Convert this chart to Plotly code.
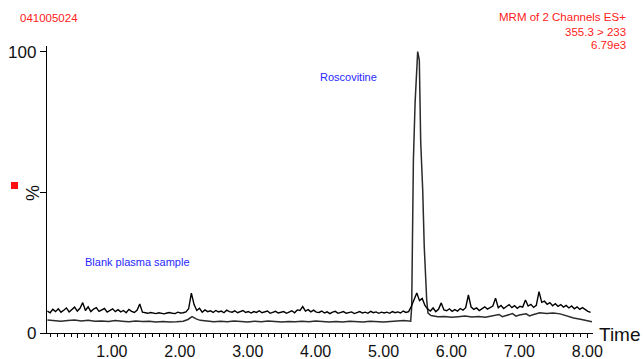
import plotly.graph_objects as go

# ---------------- data ----------------
# Trace A: noisy chromatogram, regular scan grid starting at 0.05 min, step 0.04 min
scan_start = 0.05
scan_step = 0.04
trace_a_pct = [
    7.8, 7.2, 8.4, 7.6, 8.6, 7.4, 8.1, 8.9, 7.5, 8.3, 9.2, 7.8, 8.8, 10.8, 8.0, 9.3, 7.6, 8.5, 9.0, 7.7, 8.2, 8.7, 7.4, 8.1, 8.6,
    7.6, 8.3, 7.5, 8.0, 7.2, 8.4, 7.7, 7.3, 8.1, 10.3, 7.4, 7.2, 7.0, 7.3, 7.1, 6.9, 7.2, 7.0, 6.8, 7.1, 7.3, 7.0, 6.9, 7.4, 7.1,
    7.2, 7.5, 8.6, 14.2, 10.1, 8.0, 8.8, 7.4, 8.2, 7.6, 7.9, 7.3, 8.0, 7.5, 7.8, 7.2, 8.1, 7.6, 7.4, 7.9, 7.2, 7.7, 8.0, 7.3, 7.6,
    7.1, 7.6, 7.3, 7.9, 7.2, 7.5, 7.8, 7.0, 7.4, 7.7, 7.1, 7.3, 7.6, 7.0, 7.5, 7.9, 7.2, 8.2, 8.0, 9.4, 7.8, 8.3, 7.5, 8.1, 7.4,
    7.3, 7.8, 7.1, 7.5, 6.9, 7.4, 7.7, 7.0, 7.3, 7.6, 7.0, 7.2, 7.5, 6.9, 7.3, 7.6, 7.1, 7.4, 7.0, 7.7, 7.2, 7.5, 7.0, 7.4, 7.1,
    7.4, 7.0, 7.6, 7.2, 7.5, 7.1, 7.8, 7.3, 7.6, 9.5, 12.0, 14.2, 11.5, 12.3, 9.8, 8.5, 7.8, 8.9, 7.6, 8.4, 10.7, 8.2, 7.9, 8.6, 7.7,
    8.3, 7.8, 8.7, 8.1, 9.0, 13.5, 9.2, 8.4, 8.9, 8.0, 8.6, 9.3, 8.5, 9.1, 9.6, 12.4, 9.0, 9.8, 8.7, 9.4, 10.1, 9.0, 9.7, 8.8, 9.5,
    9.2, 11.7, 9.6, 10.2, 9.1, 9.8, 14.7, 10.9, 11.3, 10.2, 10.8, 9.7, 10.4, 9.5, 10.1, 9.2, 9.8, 8.9, 9.6, 8.6, 9.3, 8.4, 9.0, 8.2, 7.7, 7.3,
]
trace_a_time = [round(scan_start + scan_step * i, 3) for i in range(len(trace_a_pct))]

# Trace B: smoother chromatogram containing the Roscovitine peak
trace_b_time = [
    0.05, 0.15, 0.25, 0.35, 0.45, 0.55, 0.65, 0.75, 0.85, 0.95, 1.05, 1.15, 1.25, 1.35, 1.45, 1.55, 1.65, 1.75, 1.85, 1.95,
    2.05, 2.12, 2.18, 2.24, 2.30, 2.40, 2.50, 2.60, 2.70, 2.80, 2.90, 3.00, 3.10, 3.20, 3.30, 3.40, 3.50, 3.60, 3.70, 3.80,
    3.90, 4.00, 4.10, 4.20, 4.30, 4.40, 4.50, 4.60, 4.70, 4.80, 4.90, 5.00, 5.10, 5.20, 5.30, 5.40,
    5.415, 5.425, 5.44, 5.465, 5.49, 5.503, 5.527, 5.548, 5.577, 5.60, 5.636, 5.655,
    5.70, 5.80, 5.90, 6.00, 6.10, 6.20, 6.30, 6.40, 6.50, 6.60, 6.70, 6.75, 6.80, 6.90, 6.95, 7.00, 7.10, 7.15, 7.20,
    7.30, 7.40, 7.50, 7.60, 7.70, 7.80, 7.90, 8.00, 8.07,
]
trace_b_pct = [
    4.6, 4.5, 4.2, 4.4, 4.6, 4.3, 4.5, 4.2, 4.3, 4.1, 4.4, 4.2, 4.0, 4.3, 4.1, 4.2, 3.9, 4.1, 3.9, 4.0,
    4.2, 4.8, 5.8, 5.0, 4.5, 4.3, 4.0, 4.2, 4.0, 4.3, 4.1, 3.9, 4.2, 4.0, 4.3, 4.1, 3.9, 4.1, 4.0, 4.2,
    4.0, 4.3, 4.0, 3.9, 4.1, 3.9, 4.2, 4.0, 3.9, 4.2, 4.0, 3.9, 4.1, 4.3, 4.4, 4.2,
    9.3, 30.6, 61.6, 81.9, 98.2, 100.0, 97.0, 67.6, 50.9, 30.6, 11.7, 7.1,
    6.2, 5.8, 5.9, 5.6, 5.8, 6.0, 5.7, 5.9, 5.6, 6.1, 6.6, 5.8, 6.2, 6.9, 6.0, 6.4, 6.8, 6.1, 6.5,
    7.2, 6.9, 7.1, 6.8, 6.0, 5.3, 4.9, 4.3, 4.0,
]

x_major_ticks = [0.5, 1.0, 1.5, 2.0, 2.5, 3.0, 3.5, 4.0, 4.5, 5.0, 5.5, 6.0, 6.5, 7.0, 7.5, 8.0]
x_major_text = ["", "1.00", "", "2.00", "", "3.00", "", "4.00", "", "5.00", "", "6.00", "", "7.00", "", "8.00"]
y_ticks = [0, 50, 100]
y_tick_text = ["0", "", "100"]

sample_id = "041005024"
header_lines = ["MRM of 2 Channels ES+", "355.3 > 233", "6.79e3"]
peak_label = "Roscovitine"
blank_label = "Blank plasma sample"

# ---------------- layout geometry ----------------
W, H = 644, 359
ML, MR, MT, MB = 47, 51, 46, 26
PW, PH = W - ML - MR, H - MT - MB


def px_x(px):
    return (px - ML) / PW


def px_y(py):
    return (H - MB - py) / PH


FONT = "Arial, Liberation Sans, Helvetica, sans-serif"

fig = go.Figure()
fig.add_trace(go.Scatter(x=trace_b_time, y=trace_b_pct, mode="lines",
                         line=dict(color="#2b2b2b", width=1.5), hoverinfo="skip"))
fig.add_trace(go.Scatter(x=trace_a_time, y=trace_a_pct, mode="lines",
                         line=dict(color="#000000", width=1.4), hoverinfo="skip"))

annos = []
annos.append(dict(text=sample_id, x=px_x(18), y=px_y(18), xanchor="left", yanchor="middle",
                  font=dict(color="#ff2020", size=11.5, family=FONT)))
for txt, yy in zip(header_lines, [16.5, 31.5, 45.5]):
    annos.append(dict(text=txt, x=px_x(628), y=px_y(yy), xanchor="right", yanchor="middle",
                      font=dict(color="#ff2020", size=11.5, family=FONT)))
annos.append(dict(text=peak_label, x=px_x(318), y=px_y(77), xanchor="left", yanchor="middle",
                  font=dict(color="#2828ff", size=11, family=FONT)))
annos.append(dict(text=blank_label, x=px_x(83), y=px_y(262), xanchor="left", yanchor="middle",
                  font=dict(color="#2828ff", size=11, family=FONT)))
annos.append(dict(text="Time", x=px_x(597), y=px_y(334), xanchor="left", yanchor="middle",
                  font=dict(color="#111111", size=19, family=FONT)))
annos.append(dict(text="%", x=px_x(33), y=px_y(193), xanchor="center", yanchor="middle", textangle=-90,
                  font=dict(color="#111111", size=18, family=FONT)))
for a in annos:
    a.update(xref="paper", yref="paper", showarrow=False)

fig.update_layout(
    width=W, height=H,
    margin=dict(l=ML, r=MR, t=MT, b=MB, pad=0, autoexpand=False),
    paper_bgcolor="white", plot_bgcolor="white",
    showlegend=False,
    annotations=annos,
    shapes=[dict(type="rect", xref="paper", yref="paper",
                 x0=px_x(11), x1=px_x(18), y0=px_y(189), y1=px_y(182),
                 fillcolor="#ff1010", line=dict(width=0))],
    font=dict(family=FONT, color="#111111"),
)
fig.update_xaxes(range=[0.044, 8.085], showgrid=False, zeroline=False, automargin=False,
                 showline=True, linecolor="black", linewidth=1.4,
                 tickmode="array", tickvals=x_major_ticks, ticktext=x_major_text,
                 ticks="outside", ticklen=4, tickwidth=1.2, tickcolor="black",
                 tickfont=dict(size=16, family=FONT, color="#111111"),
                 minor=dict(dtick=0.1, tick0=0, ticks="outside", ticklen=3, tickwidth=1, tickcolor="black"))
fig.update_yaxes(range=[0, 102], showgrid=False, zeroline=False, automargin=False,
                 showline=True, linecolor="black", linewidth=1.4,
                 tickmode="array", tickvals=y_ticks, ticktext=y_tick_text,
                 ticks="outside", ticklen=6, tickwidth=1.2, tickcolor="black",
                 tickfont=dict(size=17, family=FONT, color="#111111"))

fig.write_html("out.html")
